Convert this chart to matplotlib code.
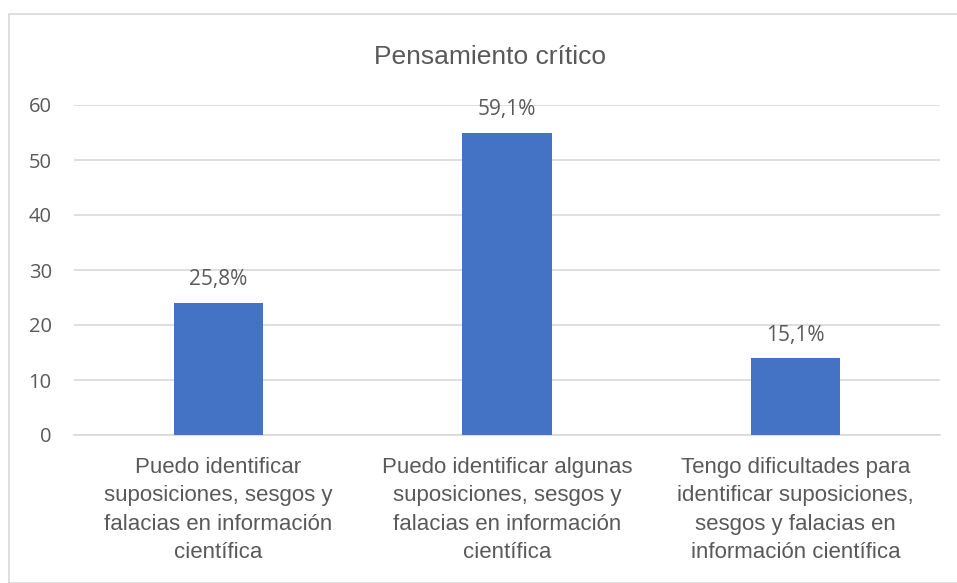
import matplotlib
matplotlib.use('Agg')
import matplotlib.pyplot as plt
from matplotlib.patches import Rectangle

# datos
categorias = ['Puedo identificar\nsuposiciones, sesgos y\nfalacias en información\ncientífica',
              'Puedo identificar algunas\nsuposiciones, sesgos y\nfalacias en información\ncientífica',
              'Tengo dificultades para\nidentificar suposiciones,\nsesgos y falacias en\ninformación científica']
valores = [24, 55, 14]
etiquetas = ['25,8%', '59,1%', '15,1%']
yticks = [0, 10, 20, 30, 40, 50, 60]

gris = '#595959'
narrow = ['Liberation Sans Narrow', 'Liberation Sans', 'DejaVu Sans']
segoe = ['Open Sans', 'DejaVu Sans']

fig = plt.figure(figsize=(9.57, 5.83), dpi=100)
fig.patches.append(Rectangle((9 / 957, 0), 1.2, 1 - 14 / 583, transform=fig.transFigure,
                             fill=False, edgecolor='#d9d9d9', linewidth=1.2))

ax = fig.add_axes([74 / 957, 1 - 435 / 583, 866 / 957, 330 / 583])
x = range(len(valores))
barras = ax.bar(x, valores, width=0.31, color='#4472C4', zorder=3)
for b, t in zip(barras, etiquetas):
    ax.annotate(t, (b.get_x() + b.get_width() / 2, b.get_height()), xytext=(0, 9),
                textcoords='offset points', ha='center', va='bottom',
                fontsize=15, color=gris, family=segoe)

ax.set_xlim(-0.5, 2.5)
ax.set_ylim(0, 60)
ax.set_yticks(yticks)
ax.set_yticklabels([str(v) for v in yticks], family=segoe, fontsize=14.5, color=gris)
ax.set_xticks(list(x))
ax.set_xticklabels(categorias, family=narrow, fontsize=16, color=gris, linespacing=1.45)
ax.tick_params(axis='both', length=0)
ax.tick_params(axis='y', pad=16)
ax.tick_params(axis='x', pad=16)
ax.grid(axis='y', color='#d9d9d9', linewidth=1.2, zorder=0)
for s in ['top', 'right', 'left']:
    ax.spines[s].set_visible(False)
ax.spines['bottom'].set_color('#d9d9d9')
ax.spines['bottom'].set_linewidth(1.2)

fig.text(490 / 957, 1 - 57 / 583, 'Pensamiento crítico', ha='center', va='center',
         fontsize=19, color=gris, family=narrow)

fig.savefig('out.png', dpi=100)
